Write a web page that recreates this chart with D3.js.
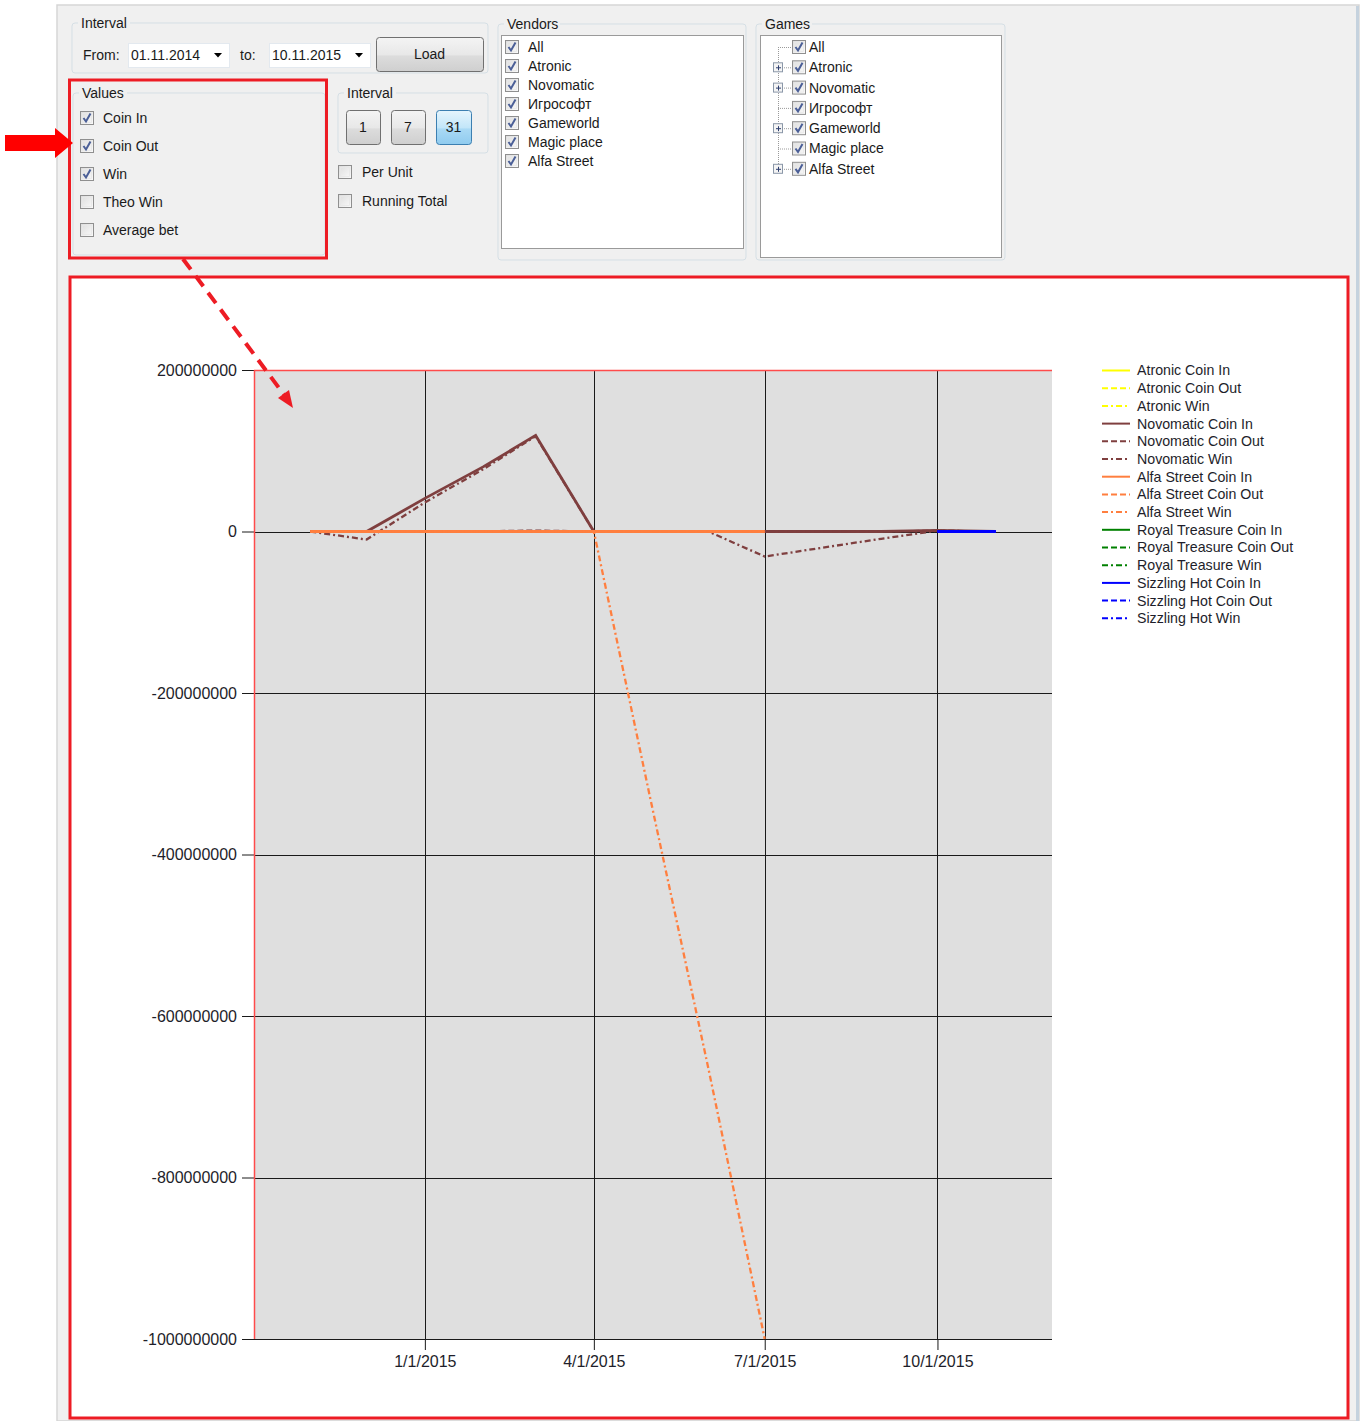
<!DOCTYPE html>
<html>
<head>
<meta charset="utf-8">
<script src="https://cdn.jsdelivr.net/npm/d3@7"></script>
<style>
  html, body { margin: 0; padding: 0; background: #ffffff; }
  svg { display: block; }
  text { font-family: "Liberation Sans", Arial, sans-serif; }
</style>
</head>
<body>
<svg id="root" width="1367" height="1421"></svg>
<script>
// ---------------- DATA ----------------
const dates = ["2014-11-01","2014-12-01","2015-01-01","2015-02-01","2015-03-01","2015-04-01",
               "2015-05-01","2015-06-01","2015-07-01","2015-08-01","2015-09-01","2015-10-01","2015-11-01"];

const vendors  = ["Atronic", "Novomatic", "Alfa Street", "Royal Treasure", "Sizzling Hot"];
const measures = ["Coin In", "Coin Out", "Win"];
const vendorColors = ["#ffff00", "#7f3f3f", "#ff7f3f", "#008000", "#0000ff"];

const atronicCoinIn   = [null,null,null,null,null,null,null,null,null,null,null,null,null];
const atronicCoinOut  = [null,null,null,null,null,null,null,null,null,null,null,null,null];
const atronicWin      = [null,null,null,null,null,null,null,null,null,null,null,null,null];

const novomaticCoinIn  = [0, 0, 41e6, 80e6, 119e6, 0, 0, 0, 0, 0, 0, 1.5e6, 0];
const novomaticCoinOut = [0, 0, 0, 0.3e6, 1.2e6, 0, 0, 0, 0, 0, 0, 1e6, 0];
const novomaticWin     = [0, -10e6, 36e6, 77e6, 118e6, 0, 0, 0, -31e6, -20e6, -9e6, 1e6, 0];

const alfaStreetCoinIn  = [0, 0, 0, 0, 0, 0, 0, 0, 0, null, null, null, null];
const alfaStreetCoinOut = [0, 0, 0, 0, 0, 0, 0, 0, 0, null, null, null, null];
const alfaStreetWin     = [0, 0, 0, 0, 0, 0, -330e6, -665e6, -1000e6, null, null, null, null];

const royalTreasureCoinIn  = [null,null,null,null,null,null,null,null,null,null,null,null,null];
const royalTreasureCoinOut = [null,null,null,null,null,null,null,null,null,null,null,null,null];
const royalTreasureWin     = [null,null,null,null,null,null,null,null,null,null,null,null,null];

const sizzlingHotCoinIn  = [null,null,null,null,null,null,null,null,null,null,null,0,0];
const sizzlingHotCoinOut = [null,null,null,null,null,null,null,null,null,null,null,0,0];
const sizzlingHotWin     = [null,null,null,null,null,null,null,null,null,null,null,0,0];

const yTickValues = [200000000, 0, -200000000, -400000000, -600000000, -800000000, -1000000000];
const xTickLabels = ["2015-01-01", "2015-04-01", "2015-07-01", "2015-10-01"];

const vendorList = ["All", "Atronic", "Novomatic", "Игрософт", "Gameworld", "Magic place", "Alfa Street"];
const gameList   = ["All", "Atronic", "Novomatic", "Игрософт", "Gameworld", "Magic place", "Alfa Street"];
const gameExpandable = [false, true, true, false, true, false, true];
const valueOptions = ["Coin In", "Coin Out", "Win", "Theo Win", "Average bet"];
const valueChecked = [true, true, true, false, false];

// ---------------- BUILD ----------------
const seriesValues = [
  [atronicCoinIn, atronicCoinOut, atronicWin],
  [novomaticCoinIn, novomaticCoinOut, novomaticWin],
  [alfaStreetCoinIn, alfaStreetCoinOut, alfaStreetWin],
  [royalTreasureCoinIn, royalTreasureCoinOut, royalTreasureWin],
  [sizzlingHotCoinIn, sizzlingHotCoinOut, sizzlingHotWin]
];
const dashes = [null, "6,3", "6,3,2,3"];
const parse = d3.utcParse("%Y-%m-%d");
const series = [];
vendors.forEach((v, vi) => measures.forEach((m, mi) => {
  series.push({
    name: v + " " + m, color: vendorColors[vi], dash: dashes[mi], solid: mi === 0,
    values: dates.map((d, i) => ({ date: parse(d), value: seriesValues[vi][mi][i] }))
  });
}));

const svg = d3.select("#root");
const RED = "#ed1c24";
const FONT = "Liberation Sans, Arial, sans-serif";

// ---- form background ----
svg.append("rect").attr("x", 57).attr("y", 5).attr("width", 1302).attr("height", 1416)
  .attr("fill", "#f0f0f0").attr("stroke", "#d6d6d6").attr("stroke-width", 1.5);
svg.append("rect").attr("x", 1356).attr("y", 6).attr("width", 3).attr("height", 1415).attr("fill", "#c5d2de");

const defs = svg.append("defs");
const g1 = defs.append("linearGradient").attr("id", "btn").attr("x1", 0).attr("x2", 0).attr("y1", 0).attr("y2", 1);
g1.append("stop").attr("offset", "0").attr("stop-color", "#f4f4f4");
g1.append("stop").attr("offset", "0.5").attr("stop-color", "#e8e8e8");
g1.append("stop").attr("offset", "0.55").attr("stop-color", "#dcdcdc");
g1.append("stop").attr("offset", "1").attr("stop-color", "#cfcfcf");
const g2 = defs.append("linearGradient").attr("id", "btnBlue").attr("x1", 0).attr("x2", 0).attr("y1", 0).attr("y2", 1);
g2.append("stop").attr("offset", "0").attr("stop-color", "#e6f5fd");
g2.append("stop").attr("offset", "0.5").attr("stop-color", "#c3e6f9");
g2.append("stop").attr("offset", "0.55").attr("stop-color", "#a9d9f5");
g2.append("stop").attr("offset", "1").attr("stop-color", "#8fcbef");
const g3 = defs.append("linearGradient").attr("id", "chk").attr("x1", 0).attr("x2", 1).attr("y1", 0).attr("y2", 1);
g3.append("stop").attr("offset", "0").attr("stop-color", "#dcdcdc");
g3.append("stop").attr("offset", "1").attr("stop-color", "#fbfbfb");

const ui = svg.append("g").attr("font-family", FONT).attr("font-size", 14).attr("fill", "#1a1a1a");

function groupBox(x, y, w, h, label, labelW) {
  ui.append("rect").attr("x", x).attr("y", y).attr("width", w).attr("height", h).attr("rx", 3)
    .attr("fill", "none").attr("stroke", "#d5dfe5");
  ui.append("rect").attr("x", x + 6).attr("y", y - 8).attr("width", labelW).attr("height", 16).attr("fill", "#f0f0f0");
  ui.append("text").attr("x", x + 9).attr("y", y).attr("dy", "0.35em").text(label);
}
function checkBox(x, cy, checked, label, tx) {
  ui.append("rect").attr("x", x + 0.5).attr("y", cy - 7 + 0.5).attr("width", 13).attr("height", 13)
    .attr("fill", "url(#chk)").attr("stroke", "#8f8f8f");
  ui.append("rect").attr("x", x + 2.5).attr("y", cy - 4.5).attr("width", 9).attr("height", 9)
    .attr("fill", "none").attr("stroke", "#e8e8e8").attr("stroke-width", 0.8);
  if (checked) {
    ui.append("path").attr("d", `M${x + 3.5},${cy} L${x + 6},${cy + 3.5} L${x + 10.5},${cy - 4.5}`)
      .attr("fill", "none").attr("stroke", "#4b5f97").attr("stroke-width", 2);
  }
  if (label) ui.append("text").attr("x", tx).attr("y", cy).attr("dy", "0.35em").text(label);
}
function button(x, y, w, h, label, blue) {
  ui.append("rect").attr("x", x + 0.5).attr("y", y + 0.5).attr("width", w).attr("height", h).attr("rx", 3)
    .attr("fill", blue ? "url(#btnBlue)" : "url(#btn)").attr("stroke", blue ? "#3c7fb1" : "#707070");
  ui.append("text").attr("x", x + w / 2).attr("y", y + h / 2).attr("dy", "0.35em")
    .attr("text-anchor", "middle").text(label);
}
function combo(x, y, w, h, label) {
  ui.append("rect").attr("x", x + 0.5).attr("y", y + 0.5).attr("width", w).attr("height", h)
    .attr("fill", "#ffffff").attr("stroke", "#e3e9ef");
  ui.append("text").attr("x", x + 3).attr("y", y + h / 2).attr("dy", "0.35em").text(label);
  const ax = x + w - 11, ay = y + h / 2;
  ui.append("path").attr("d", `M${ax - 4},${ay - 2} L${ax + 4},${ay - 2} L${ax},${ay + 2.5} Z`).attr("fill", "#000");
}

// Interval group
groupBox(72, 23, 416, 50, "Interval", 52);
ui.append("text").attr("x", 83).attr("y", 55).attr("dy", "0.35em").text("From:");
combo(128, 43, 101, 24, "01.11.2014");
ui.append("text").attr("x", 240).attr("y", 55).attr("dy", "0.35em").text("to:");
combo(269, 43, 101, 24, "10.11.2015");
button(376, 37, 107, 34, "Load", false);

// Values group
groupBox(73, 93, 252, 162, "Values", 48);
valueOptions.forEach((v, i) => checkBox(80, 118 + i * 28, valueChecked[i], v, 103));

// Interval 2 group
groupBox(338, 93, 150, 60, "Interval", 52);
button(346, 110, 34, 34, "1", false);
button(391, 110, 34, 34, "7", false);
button(436, 110, 35, 34, "31", true);
checkBox(338, 172, false, "Per Unit", 362);
checkBox(338, 201, false, "Running Total", 362);

// Vendors group
groupBox(498, 24, 248, 236, "Vendors", 56);
ui.append("rect").attr("x", 501.5).attr("y", 35.5).attr("width", 242).attr("height", 213)
  .attr("fill", "#ffffff").attr("stroke", "#9a9a9a");
vendorList.forEach((v, i) => checkBox(505, 47 + i * 19, true, v, 528));

// Games group
groupBox(756, 24, 249, 236, "Games", 50);
ui.append("rect").attr("x", 760.5).attr("y", 35.5).attr("width", 241).attr("height", 222)
  .attr("fill", "#ffffff").attr("stroke", "#9a9a9a");
const gameY = i => 47 + i * 20.3;
ui.append("line").attr("x1", 778.5).attr("x2", 778.5).attr("y1", gameY(0)).attr("y2", gameY(6))
  .attr("stroke", "#9a9a9a").attr("stroke-dasharray", "1,1");
gameList.forEach((v, i) => {
  ui.append("line").attr("x1", 778).attr("x2", 791).attr("y1", gameY(i) + 0.5).attr("y2", gameY(i) + 0.5)
    .attr("stroke", "#9a9a9a").attr("stroke-dasharray", "1,1");
  if (gameExpandable[i]) {
    ui.append("rect").attr("x", 773.5).attr("y", gameY(i) - 4.5).attr("width", 9).attr("height", 9)
      .attr("fill", "#f4f4f4").attr("stroke", "#8a97a8");
    ui.append("path").attr("d", `M${776},${gameY(i) + 0.5} h5 M${778.5},${gameY(i) - 2} v5`)
      .attr("stroke", "#2d3e6e").attr("stroke-width", 1);
  }
  checkBox(792, gameY(i), true, v, 809);
});

// ---- chart red frame ----
svg.append("rect").attr("x", 70).attr("y", 277).attr("width", 1278).attr("height", 1141)
  .attr("fill", "#ffffff").attr("stroke", RED).attr("stroke-width", 3);
// values highlight box
svg.append("rect").attr("x", 69.5).attr("y", 80).attr("width", 257).attr("height", 178)
  .attr("fill", "none").attr("stroke", RED).attr("stroke-width", 3);

// ---------------- CHART ----------------
const P = { left: 254, right: 1052, top: 370, bottom: 1339 };
const x = d3.scaleUtc().domain([parse("2014-10-02"), parse("2015-12-01")]).range([P.left, P.right]);
const y = d3.scaleLinear().domain([-1000000000, 200000000]).range([P.bottom, P.top]);

const chart = svg.append("g");
chart.append("rect").attr("x", P.left).attr("y", P.top).attr("width", P.right - P.left)
  .attr("height", P.bottom - P.top).attr("fill", "#dfdfdf");

const xTicks = xTickLabels.map(parse);
// grid
chart.append("g").selectAll("line").data(yTickValues).join("line")
  .attr("x1", P.left).attr("x2", P.right).attr("y1", d => Math.round(y(d)) + 0.5).attr("y2", d => Math.round(y(d)) + 0.5)
  .attr("stroke", "#1a1a1a");
chart.append("g").selectAll("line").data(xTicks).join("line")
  .attr("x1", d => Math.round(x(d)) + 0.5).attr("x2", d => Math.round(x(d)) + 0.5)
  .attr("y1", P.top).attr("y2", P.bottom).attr("stroke", "#1a1a1a");

// axes
const yAxis = chart.append("g").attr("transform", `translate(${P.left},0)`)
  .call(d3.axisLeft(y).tickValues(yTickValues).tickSize(12).tickPadding(5).tickFormat(d => String(d)));
yAxis.select(".domain").remove();
yAxis.selectAll("text").attr("font-size", 16).attr("font-family", FONT).attr("fill", "#1e1e2a");
yAxis.selectAll("line").attr("stroke", "#1a1a1a");

const xAxis = chart.append("g").attr("transform", `translate(0,${P.bottom})`)
  .call(d3.axisBottom(x).tickValues(xTicks).tickSize(11).tickPadding(6).tickFormat(d3.utcFormat("%-m/%-d/%Y")));
xAxis.select(".domain").remove();
xAxis.selectAll("text").attr("font-size", 16).attr("font-family", FONT).attr("fill", "#1e1e2a");
xAxis.selectAll("line").attr("stroke", "#1a1a1a");
chart.append("line").attr("x1", P.left).attr("x2", P.right).attr("y1", P.bottom + 0.5).attr("y2", P.bottom + 0.5)
  .attr("stroke", "#1a1a1a");

// red axis lines (left / top)
chart.append("line").attr("x1", P.left + 0.5).attr("x2", P.left + 0.5).attr("y1", P.top).attr("y2", P.bottom)
  .attr("stroke", "#ff4b4b").attr("stroke-width", 1.5);
chart.append("line").attr("x1", P.left).attr("x2", P.right).attr("y1", P.top + 0.5).attr("y2", P.top + 0.5)
  .attr("stroke", "#ff4b4b").attr("stroke-width", 1.5);

// lines
defs.append("clipPath").attr("id", "plotClip").append("rect")
  .attr("x", P.left).attr("y", P.top - 2).attr("width", P.right - P.left).attr("height", P.bottom - P.top + 4);
const line = d3.line().defined(d => d.value !== null).x(d => x(d.date)).y(d => y(d.value));
chart.append("g").attr("clip-path", "url(#plotClip)").selectAll("path").data(series).join("path")
  .attr("d", s => line(s.values)).attr("fill", "none").attr("stroke", s => s.color)
  .attr("stroke-width", s => s.solid ? 2.8 : 2.3).attr("stroke-dasharray", s => s.dash);

// legend
const legend = svg.append("g").attr("font-family", FONT).attr("font-size", 14.2);
const li = legend.selectAll("g").data(series).join("g")
  .attr("transform", (d, i) => `translate(1102,${370.5 + i * 17.7})`);
li.append("line").attr("x1", 0).attr("x2", 28).attr("stroke", d => d.color).attr("stroke-width", 2)
  .attr("stroke-dasharray", d => d.dash);
li.append("text").attr("x", 35).attr("dy", "0.35em").attr("fill", "#1e1e2a").text(d => d.name);

// ---- annotations ----
svg.append("path").attr("d", "M5,135 L55,135 L55,128 L73,143 L55,158 L55,151 L5,151 Z").attr("fill", "#ff0000");
svg.append("line").attr("x1", 183).attr("y1", 259).attr("x2", 285).attr("y2", 396)
  .attr("stroke", RED).attr("stroke-width", 4).attr("stroke-dasharray", "13,8");
svg.append("path").attr("d", "M293,408 L278,398 L289,390 Z").attr("fill", RED);
</script>
</body>
</html>
